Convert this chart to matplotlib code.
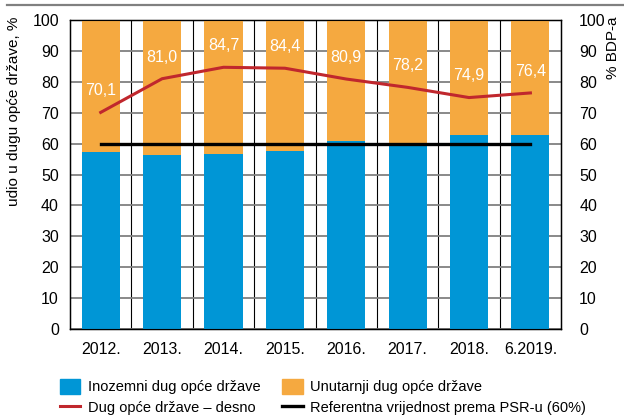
import matplotlib.pyplot as plt
from matplotlib.patches import Patch
from matplotlib.lines import Line2D
import numpy as np

plt.rcParams["font.family"] = ["Liberation Sans", "DejaVu Sans"]

years = ["2012.", "2013.", "2014.", "2015.", "2016.", "2017.", "2018.", "6.2019."]
foreign = [57.4, 56.3, 56.7, 57.7, 60.9, 60.1, 62.9, 62.9]
domestic = [100 - v for v in foreign]
debt_gdp = [70.1, 81.0, 84.7, 84.4, 80.9, 78.2, 74.9, 76.4]
reference = 60

blue = "#0096d6"
orange = "#f5a940"
red = "#c0272d"

fig = plt.figure(figsize=(6.24, 4.16), dpi=100)
ax = fig.add_axes([0.1122, 0.2091, 0.787, 0.7428])
x = np.arange(len(years))

ax.bar(x, foreign, width=0.62, color=blue, zorder=3)
ax.bar(x, domestic, width=0.62, bottom=foreign, color=orange, zorder=3)
ax.plot([x[0], x[-1]], [reference, reference], color="black", lw=2.4, zorder=5)

ax.set_xlim(-0.5, len(years) - 0.5)
ax.set_ylim(0, 100)
ax.set_yticks(range(0, 101, 10))
ax.set_xticks(x)
ax.set_xticklabels(years)
ax.tick_params(length=0, labelsize=11.5, pad=8)
ax.tick_params(axis="x", pad=9)
ax.grid(axis="y", color="#808080", lw=1.3, zorder=0)
for b in np.arange(0.5, len(years) - 0.5):
    ax.axvline(b, color="black", lw=0.8, zorder=1)
for s in ax.spines.values():
    s.set_linewidth(1.0)

ax2 = ax.twinx()
ax2.plot(x, debt_gdp, color=red, lw=2.2, zorder=6)
ax2.set_ylim(0, 100)
ax2.set_yticks(range(0, 101, 10))
ax2.tick_params(length=0, labelsize=11.5, pad=13)
for xi, v in zip(x, debt_gdp):
    ax2.text(xi, v + 7, f"{v:.1f}".replace(".", ","), color="white",
             ha="center", va="center", fontsize=11.5)

fig.text(0.022, 0.96, "udio u dugu opće države, %", rotation=90,
         ha="center", va="top", fontsize=11)
fig.text(0.983, 0.96, "% BDP-a", rotation=90, ha="center", va="top", fontsize=11)

# thin rule across the top
fig.add_artist(Line2D([0.012, 1.0], [0.988, 0.988], color="#808080", lw=1.6))

handles = [
    Patch(color=blue, label="Inozemni dug opće države"),
    Line2D([], [], color=red, lw=2.2, label="Dug opće države – desno"),
    Patch(color=orange, label="Unutarnji dug opće države"),
    Line2D([], [], color="black", lw=2.4, label="Referentna vrijednost prema PSR-u (60%)"),
]
fig.legend(handles=handles, ncol=2, loc="lower left", bbox_to_anchor=(0.075, -0.03),
           frameon=False, fontsize=10.5, handlelength=1.4, handleheight=1.2,
           columnspacing=1.5, labelspacing=0.4, handletextpad=0.5)

fig.savefig("out.png", dpi=100)
